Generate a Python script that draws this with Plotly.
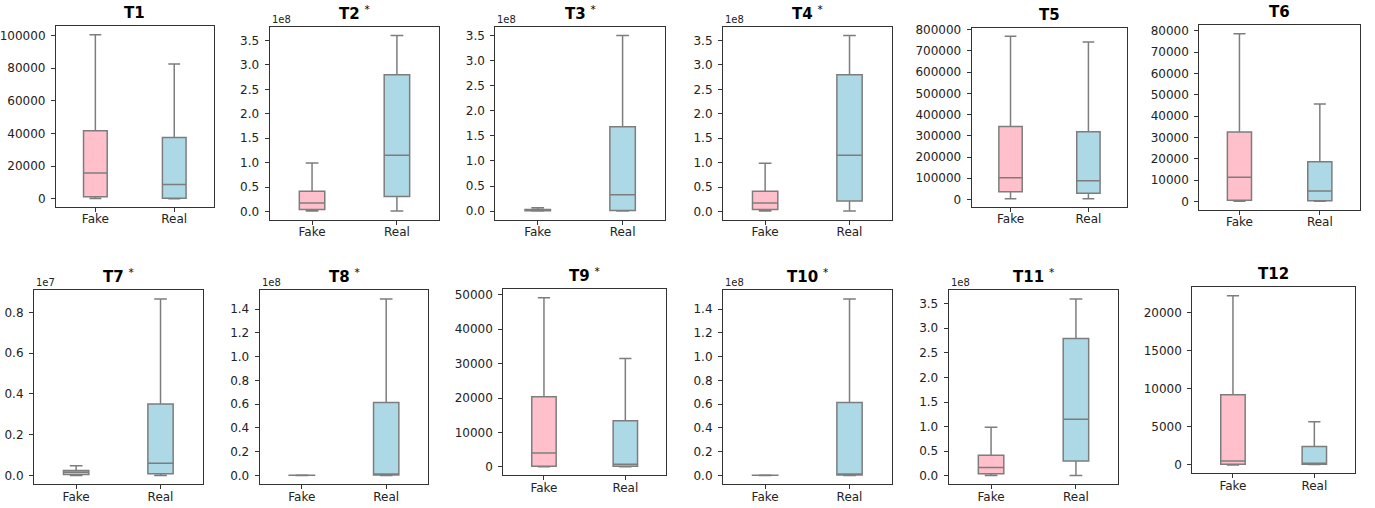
import plotly.graph_objects as go

# ---------------- data ----------------
titles = ["T1", "T2", "T3", "T4", "T5", "T6", "T7", "T8", "T9", "T10", "T11", "T12"]
starred = [False, True, True, True, False, False, True, True, True, True, True, False]
groups = ["Fake", "Real"]

# five-number summaries (lower whisker, Q1, median, Q3, upper whisker)
fake_lower = [200, 1.3e6, 0, 1.3e6, 3000, 100, 0, 0, 0, 0, 0.7e6, 0]
fake_q1 = [1200, 4.0e6, 0.5e6, 4.0e6, 37000, 600, 0.05e6, 0.05e6, 200, 0.05e6, 4.0e6, 90]
fake_median = [15800, 17.4e6, 1.5e6, 17.4e6, 102000, 11400, 0.16e6, 0.1e6, 4000, 0.1e6, 16.8e6, 520]
fake_q3 = [41700, 41.6e6, 3.0e6, 41.6e6, 344000, 32600, 0.24e6, 0.2e6, 20400, 0.2e6, 41.6e6, 9200]
fake_upper = [100600, 99.3e6, 6.5e6, 99.0e6, 769000, 78500, 0.47e6, 0.3e6, 49200, 0.3e6, 98.6e6, 22240]

real_lower = [0, 1.0e6, 0, 1.0e6, 3000, 100, 0, 0, 0, 0, 0.7e6, 40]
real_q1 = [400, 31e6, 1.3e6, 21.5e6, 29000, 300, 0.08e6, 0.3e6, 200, 0.3e6, 30.2e6, 90]
real_median = [8800, 115e6, 32.6e6, 115e6, 88000, 4900, 0.60e6, 0.6e6, 760, 0.6e6, 114.7e6, 170]
real_q3 = [37500, 280e6, 168e6, 280e6, 319000, 18600, 3.51e6, 61.5e6, 13400, 61.5e6, 279e6, 2410]
real_upper = [82600, 360e6, 350e6, 360e6, 742000, 45700, 8.66e6, 148.6e6, 31500, 148.6e6, 359.5e6, 5680]

# axis tick settings
tick_step = [20000, 0.5e8, 0.5e8, 0.5e8, 100000, 10000, 0.2e7, 0.2e8, 10000, 0.2e8, 0.5e8, 5000]
tick_max = [100000, 3.5e8, 3.5e8, 3.5e8, 800000, 80000, 0.8e7, 1.4e8, 50000, 1.4e8, 3.5e8, 20000]
offset_exp = [0, 8, 8, 8, 0, 0, 7, 8, 0, 8, 8, 0]

# ---------------- layout geometry (pixels) ----------------
W, H = 1375, 508
px_x = [(54, 212), (268, 438), (494, 664), (722, 891), (971, 1127), (1199, 1360),
        (32, 201), (258, 427), (502, 665), (722, 891), (948, 1118), (1192, 1355)]
px_y = [(21.7, 204), (22, 217), (22, 217), (22, 217), (23.3, 204), (20.7, 206.7),
        (288, 484), (288, 484), (287, 475), (288, 484), (288, 484), (285, 473)]

FONT = "DejaVu Sans"
GRAY = "#7d7d7d"
AX = "#333333"
TXT = "#222222"
colors = {"Fake": "#FFC0CB", "Real": "#ADD8E6"}

fig = go.Figure()
layout = dict(width=W, height=H, margin=dict(l=0, r=0, t=0, b=0),
              paper_bgcolor="white", plot_bgcolor="white", showlegend=False,
              font=dict(family=FONT, size=12, color=TXT))
annotations = []

stats = {
    "Fake": (fake_lower, fake_q1, fake_median, fake_q3, fake_upper),
    "Real": (real_lower, real_q1, real_median, real_q3, real_upper),
}

for i in range(12):
    n = i + 1
    xa = "x" if n == 1 else f"x{n}"
    ya = "y" if n == 1 else f"y{n}"
    for g in groups:
        lo, q1, md, q3, up = stats[g]
        fig.add_trace(go.Box(
            x=[g], lowerfence=[lo[i]], q1=[q1[i]], median=[md[i]], q3=[q3[i]], upperfence=[up[i]],
            orientation="v", width=0.3, whiskerwidth=0.5, boxpoints=False,
            fillcolor=colors[g], line=dict(color=GRAY, width=1.5),
            xaxis=xa, yaxis=ya, name=g, showlegend=False))

    lo_all = min(fake_lower[i], real_lower[i])
    hi_all = max(fake_upper[i], real_upper[i])
    pad = 0.05 * (hi_all - lo_all)
    e = offset_exp[i]
    tv = []
    v = 0.0
    while v <= tick_max[i] * 1.0001:
        tv.append(v)
        v += tick_step[i]
    if e:
        tt = [f"{t / 10 ** e:.1f}" for t in tv]
    else:
        tt = [f"{int(round(t))}" for t in tv]

    x0, x1 = px_x[i]
    y0, y1 = px_y[i]
    dx = [x0 / W, x1 / W]
    dy = [1 - y1 / H, 1 - y0 / H]
    axis_common = dict(showline=True, mirror=True, linecolor=AX, linewidth=1,
                       ticks="outside", ticklen=4, tickwidth=1, tickcolor=AX,
                       showgrid=False, zeroline=False,
                       tickfont=dict(family=FONT, size=12, color=TXT))
    layout["xaxis" if n == 1 else f"xaxis{n}"] = dict(
        domain=dx, anchor=ya, type="category", categoryorder="array", categoryarray=groups,
        range=[-0.5, 1.5], ticklabelstandoff=-3, **axis_common)
    layout["yaxis" if n == 1 else f"yaxis{n}"] = dict(
        domain=dy, anchor=xa, range=[lo_all - pad, hi_all + pad],
        tickvals=tv, ticktext=tt, ticklabelstandoff=3, **axis_common)

    title = f"<b>{titles[i]}</b>" + (" <sup>*</sup>" if starred[i] else "")
    annotations.append(dict(text=title, xref="paper", yref="paper",
                            x=(dx[0] + dx[1]) / 2, y=dy[1], xanchor="center", yanchor="bottom",
                            yshift=2, showarrow=False,
                            font=dict(family=FONT, size=15, color="black")))
    if e:
        annotations.append(dict(text=f"1e{e}", xref="paper", yref="paper",
                                x=dx[0], y=dy[1], xanchor="left", yanchor="bottom",
                                yshift=0, showarrow=False,
                                font=dict(family=FONT, size=10, color=TXT)))

layout["annotations"] = annotations
fig.update_layout(**layout)

fig.write_html("out.html", config={"displayModeBar": False},
               post_script="document.body.style.margin='0';document.body.style.overflow='hidden';")
